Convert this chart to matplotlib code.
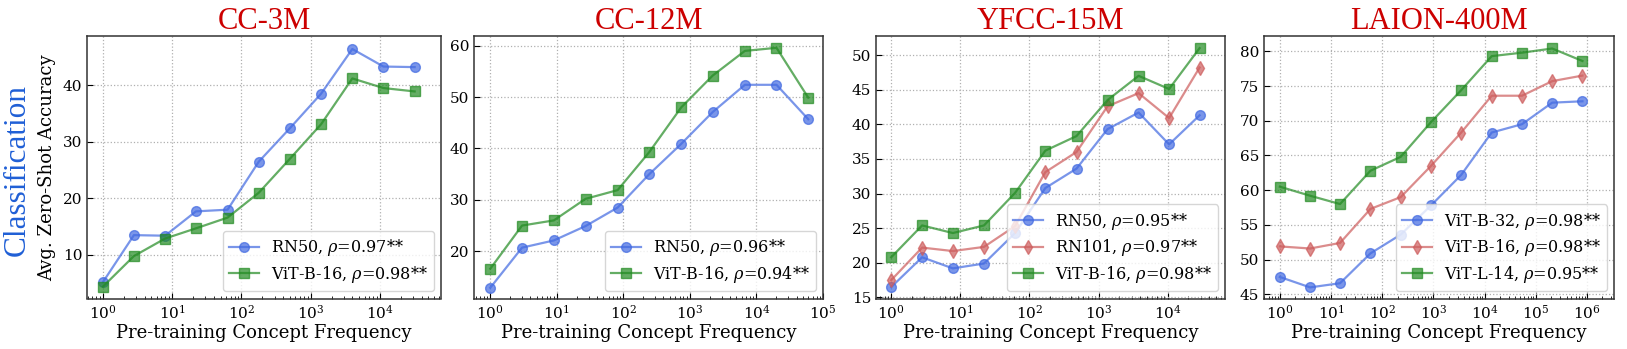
import matplotlib
matplotlib.use("Agg")
import matplotlib.pyplot as plt

# ---------------- data ----------------
titles = ["CC-3M", "CC-12M", "YFCC-15M", "LAION-400M"]

x_cc3m = [1, 2.8, 7.9, 22, 63, 178, 500, 1410, 3980, 11200, 31600]
cc3m_rn50 = [5.2, 13.5, 13.4, 17.7, 18.0, 26.5, 32.4, 38.5, 46.4, 43.3, 43.2]
cc3m_vitb16 = [4.4, 9.8, 12.9, 14.7, 16.6, 21.0, 27.0, 33.1, 41.2, 39.5, 38.9]

x_cc12m = [1, 3.0, 9.0, 27, 82, 245, 740, 2200, 6700, 20000, 60000]
cc12m_rn50 = [12.9, 20.7, 22.1, 24.9, 28.5, 35.0, 40.9, 47.1, 52.4, 52.4, 45.7]
cc12m_vitb16 = [16.6, 25.0, 26.0, 30.2, 31.9, 39.3, 48.0, 54.2, 59.0, 59.6, 49.9]

x_yfcc = [1, 2.8, 7.8, 22, 62, 170, 480, 1350, 3800, 10500, 29000]
yfcc_rn50 = [16.5, 20.8, 19.2, 19.9, 24.3, 30.8, 33.6, 39.3, 41.7, 37.1, 41.3]
yfcc_rn101 = [17.5, 22.2, 21.7, 22.3, 25.3, 33.1, 36.0, 42.6, 44.5, 40.9, 48.2]
yfcc_vitb16 = [20.8, 25.4, 24.3, 25.4, 30.1, 36.2, 38.3, 43.5, 47.0, 45.1, 51.0]

x_laion = [1, 3.9, 15, 59, 230, 900, 3500, 13800, 54000, 210000, 820000]
laion_vitb32 = [47.5, 46.0, 46.6, 50.9, 53.6, 57.8, 62.2, 68.3, 69.5, 72.6, 72.8]
laion_vitb16 = [51.9, 51.6, 52.4, 57.3, 59.0, 63.5, 68.3, 73.6, 73.6, 75.7, 76.5]
laion_vitl14 = [60.5, 59.2, 58.0, 62.8, 64.8, 69.8, 74.4, 79.3, 79.8, 80.4, 78.6]

panels = [
    (x_cc3m, [("RN50", "0.97", cc3m_rn50, "blue"),
              ("ViT-B-16", "0.98", cc3m_vitb16, "green")]),
    (x_cc12m, [("RN50", "0.96", cc12m_rn50, "blue"),
               ("ViT-B-16", "0.94", cc12m_vitb16, "green")]),
    (x_yfcc, [("RN50", "0.95", yfcc_rn50, "blue"),
              ("RN101", "0.97", yfcc_rn101, "red"),
              ("ViT-B-16", "0.98", yfcc_vitb16, "green")]),
    (x_laion, [("ViT-B-32", "0.98", laion_vitb32, "blue"),
               ("ViT-B-16", "0.98", laion_vitb16, "red"),
               ("ViT-L-14", "0.95", laion_vitl14, "green")]),
]

styles = {
    "blue": dict(color="royalblue", marker="o"),
    "red": dict(color="indianred", marker="d"),
    "green": dict(color="forestgreen", marker="s"),
}

xlims = [(10**-0.23, 10**4.88), (10**-0.245, 10**5.0),
         (10**-0.22, 10**4.83), (10**-0.31, 10**6.53)]
ylims = [(2.3, 48.7), (10.8, 61.9), (14.85, 52.75), (44.4, 82.2)]
yticks = [[10, 20, 30, 40], [20, 30, 40, 50, 60],
          [15, 20, 25, 30, 35, 40, 45, 50],
          [45, 50, 55, 60, 65, 70, 75, 80]]

plt.rcParams["font.family"] = ["DejaVu Serif"]
plt.rcParams["mathtext.fontset"] = "dejavuserif"

W, H = 1627, 349
fig = plt.figure(figsize=(W / 100, H / 100), dpi=100)

lefts = [87, 474, 876, 1264]
rights = [441, 823, 1225, 1614]
top_px, bot_px = 36, 298.5

for i, (xs, series) in enumerate(panels):
    l, r = lefts[i], rights[i]
    ax = fig.add_axes([l / W, 1 - bot_px / H, (r - l) / W, (bot_px - top_px) / H])
    for name, rho, ys, c in series:
        st = styles[c]
        ax.plot(xs, ys, color=st["color"], marker=st["marker"], alpha=0.7,
                lw=1.6, ms=7 if st["marker"] != "d" else 7.5,
                label=f"{name}, $\\rho$={rho}**")
    ax.set_xscale("log")
    ax.set_xlim(*xlims[i])
    ax.set_ylim(*ylims[i])
    ax.set_yticks(yticks[i])
    ax.grid(True, which="major", linestyle=":", color="#b0b0b0", lw=0.9)
    ax.tick_params(axis="both", which="both", direction="in", labelsize=11)
    ax.tick_params(axis="x", which="major", length=4)
    ax.tick_params(axis="x", which="minor", length=2.5)
    ax.tick_params(axis="y", which="major", length=4)
    for sp in ax.spines.values():
        sp.set_color("#333333")
        sp.set_linewidth(1.1)
    ax.set_xlabel("Pre-training Concept Frequency", fontsize=13, labelpad=2)
    if i == 0:
        ax.set_ylabel("Avg. Zero-Shot Accuracy", fontsize=13, labelpad=5)
    ax.set_title(titles[i], color="#cc0000", fontsize=22,
                 family=["Liberation Serif"], pad=5)
    leg = ax.legend(loc="lower right", fontsize=11.5, framealpha=0.8,
                    borderaxespad=0.45, handlelength=1.9, labelspacing=0.35,
                    handletextpad=0.7, edgecolor="#cccccc")

fig.text(17 / W, 1 - 170 / H, "Classification", rotation=90, color="#1f5fd6",
         fontsize=22.5, family=["Liberation Serif"], ha="center", va="center")

fig.savefig("out.png", dpi=100)
